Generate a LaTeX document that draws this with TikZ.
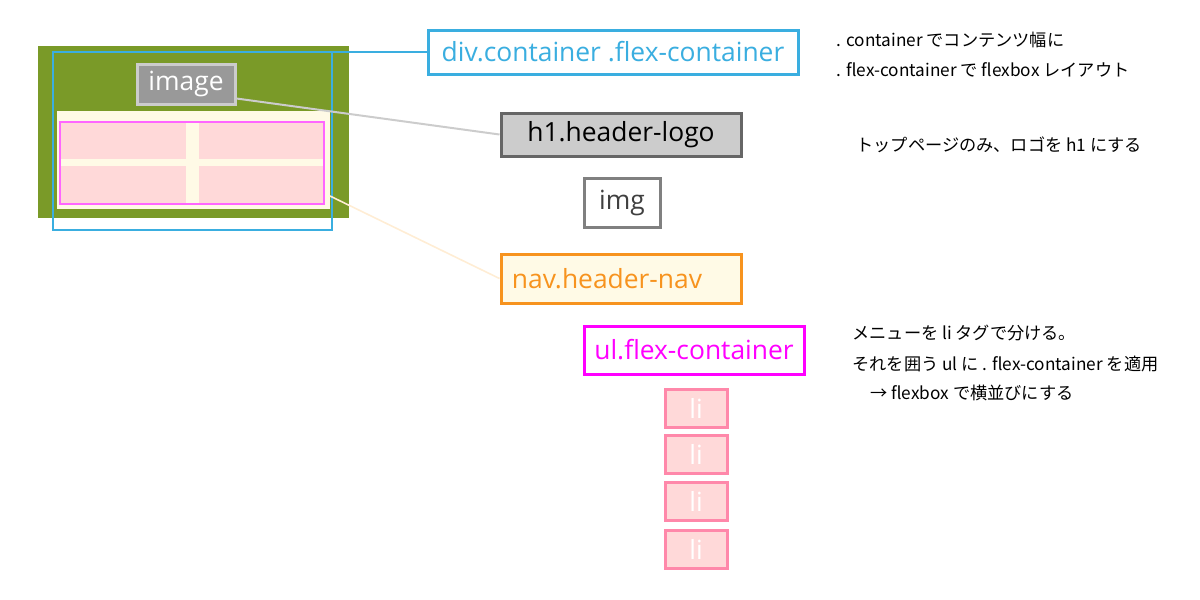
\documentclass[tikz,border=0pt]{standalone}
\usepackage{fontspec}
\setmainfont{Open Sans}
\newfontfamily\jpfont{Noto Sans CJK JP}
\definecolor{olive}{HTML}{7A9A28}
\definecolor{sky}{HTML}{3AAEE0}
\definecolor{cream}{HTML}{FFFAE6}
\definecolor{rose}{HTML}{FFD9D9}
\definecolor{rosedark}{HTML}{FF88AA}
\definecolor{orangeline}{HTML}{F7931E}
\definecolor{fuchsia}{HTML}{FF00FF}
\begin{document}
\begin{tikzpicture}[x=0.5pt,y=-0.5pt,
  tag/.style={draw,line width=1.5pt,inner sep=0pt,font=\fontsize{13.2}{15}\selectfont},
  li/.style={tag,fill=rose,draw=rosedark,text=white,minimum width=31pt,minimum height=19pt},
  note/.style={anchor=west,inner sep=0pt,font=\jpfont\fontsize{8.6}{10}\selectfont}]
  \useasboundingbox (0,0) rectangle (1200,600);
  % left mock-up
  \fill[olive] (38,46) rectangle (349,218);
  \fill[cream] (57,111) rectangle (330,209);
  \filldraw[fill=rose,draw=fuchsia!60,line width=0.6pt] (60,122) rectangle (324,204);
  \fill[cream] (186,123) rectangle (199,203);
  \fill[cream] (61,159) rectangle (323,166);
  \draw[sky,line width=1pt] (53,52) rectangle (332,230);
  \coordinate (boxtop) at (332,52);
  \coordinate (menuend) at (330,196);
  \node[tag,fill=black!40,draw=black!20,text=white,minimum width=49pt,minimum height=20pt] (image) at (186,84) {image};
  % tags
  \node[tag,draw=sky,text=sky,fill=white,minimum width=185pt,minimum height=22pt] (div) at (613,52) {div.container .flex-container};
  \node[tag,fill=black!20,draw=black!60,text=black,minimum width=120pt,minimum height=21.5pt] (h1) at (621,134.5) {h1.header-logo};
  \node[tag,draw=black!50,text=black!75,minimum width=38pt,minimum height=24.5pt] (img) at (622,202.5) {img};
  \node[tag,fill=cream,draw=orangeline,text=orangeline,minimum width=120pt,minimum height=24.5pt] (nav) at (621,278.5) {\hspace*{-14pt}nav.header-nav};
  \node[tag,draw=fuchsia,text=fuchsia,minimum width=110pt,minimum height=24pt] (ul) at (694,350) {ul.flex-container};
  \node[li] (li1) at (696,408) {li};
  \node[li] (li2) at (696,454) {li};
  \node[li] (li3) at (696,501.5) {li};
  \node[li] (li4) at (696,549.5) {li};
  % connectors
  \draw[sky,line width=1pt] (boxtop) -- (div.west);
  \draw[black!20,line width=1pt] (image.south east) ++(0,-7) -- (h1.west);
  \draw[cream!80!orange!60,line width=0.8pt] (menuend) -- (nav.west);
  % notes
  \node[note] (n1) at (836,40) {. container でコンテンツ幅に};
  \node[note] (n2) at (836,70) {. flex-container で flexbox レイアウト};
  \node[note] (n3) at (856,145) {トップページのみ、ロゴを h1 にする};
  \node[note] (n4) at (852,333) {メニューを li タグで分ける。};
  \node[note] (n5) at (852,364) {それを囲う ul に . flex-container を適用};
  \node[note] (n6) at (870,393) {→ flexbox で横並びにする};
\end{tikzpicture}
\end{document}
